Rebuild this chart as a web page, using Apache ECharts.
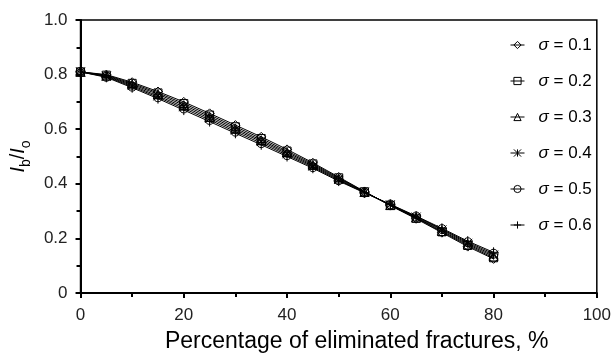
<!DOCTYPE html>
<html>
<head>
<meta charset="utf-8">
<script src="https://cdn.jsdelivr.net/npm/echarts@6/dist/echarts.min.js"></script>
<style>html,body{margin:0;padding:0;background:#fff;}#c{width:614px;height:358px;}</style>
</head>
<body>
<div id="c"></div>
<script>
const xValues = [0,5,10,15,20,25,30,35,40,45,50,55,60,65,70,75,80];
const sigmaLabels = ['0.1','0.2','0.3','0.4','0.5','0.6'];
const s01 = [.810,.800,.772,.738,.700,.658,.615,.572,.526,.477,.425,.372,.320,.272,.221,.170,.125];
const s02 = [.810,.798,.768,.733,.694,.652,.609,.566,.520,.473,.422,.371,.321,.274,.224,.174,.129];
const s03 = [.810,.796,.764,.728,.688,.646,.603,.560,.515,.469,.419,.370,.322,.276,.227,.178,.134];
const s04 = [.810,.794,.760,.722,.682,.640,.597,.555,.510,.465,.416,.369,.323,.278,.231,.182,.139];
const s05 = [.810,.792,.756,.717,.676,.634,.591,.549,.505,.461,.413,.368,.324,.280,.234,.186,.144];
const s06 = [.810,.790,.752,.712,.670,.628,.585,.543,.500,.457,.410,.367,.325,.282,.237,.190,.149];
const seriesValues = [s01,s02,s03,s04,s05,s06];
const symbols = ['diamond','rect','triangle','path://M-1,-1L1,1M1,-1L-1,1M0,-1L0,1','circle','path://M0,-1L0,1M-1,0L1,0'];
const symbolSizes = [9,8,9,9,9,10];

const chart = echarts.init(document.getElementById('c'), null, {renderer:'canvas'});
const font = 'Liberation Sans, Arial, sans-serif';
const series = seriesValues.map((vals, i) => ({
  name: 'σ = ' + sigmaLabels[i],
  type: 'line',
  data: xValues.map((x, j) => [x, vals[j]]),
  symbol: symbols[i],
  symbolSize: symbolSizes[i],
  showSymbol: true,
  lineStyle: {color: '#000', width: 1},
  itemStyle: {color: 'rgba(255,255,255,0)', borderColor: '#000', borderWidth: 1},
  emphasis: {disabled: true},
  animation: false
}));

chart.setOption({
  animation: false,
  backgroundColor: '#fff',
  grid: {left: 79, right: 16, top: 20, bottom: 64, show: true, borderColor: '#000', borderWidth: 1.5, containLabel: false},
  legend: {
    orient: 'vertical', left: 505, top: 30, itemGap: 16, itemWidth: 14, itemHeight: 9,
    data: series.map(s => s.name),
    lineStyle: {width: 1},
    itemStyle: {borderWidth: 1},
    formatter: n => '{g|}{s|σ}' + n.slice(1),
    textStyle: {fontFamily: font, fontSize: 17, color: '#000', lineHeight: 20,
      rich: {g: {width: 9}, s: {fontFamily: font, fontSize: 17, fontStyle: 'italic', color: '#000', lineHeight: 20}}}
  },
  xAxis: {
    type: 'value', min: 0, max: 100, interval: 20,
    name: 'Percentage of eliminated fractures, %', nameLocation: 'middle', nameGap: 37,
    nameTextStyle: {fontFamily: font, fontSize: 23, color: '#000', padding: [0,0,0,36]},
    axisLine: {lineStyle: {color: '#000', width: 2}},
    axisTick: {inside: false, length: 5, lineStyle: {color: '#000', width: 2}},
    minorTick: {show: true, splitNumber: 2, length: 4, lineStyle: {color: '#000', width: 2}},
    splitLine: {show: false},
    axisLabel: {fontFamily: font, fontSize: 17, color: '#222', margin: 14}
  },
  yAxis: {
    type: 'value', min: 0, max: 1, interval: 0.2,
    name: '{i|I}{sub|b}{n|/}{i|I}{sub|o}', nameLocation: 'middle', nameGap: 47, nameRotate: 90,
    nameTextStyle: {fontFamily: font, fontSize: 20, color: '#000',
      rich: {
        i: {fontFamily: font, fontSize: 20, fontStyle: 'italic', color: '#000', verticalAlign: 'bottom', lineHeight: 24},
        n: {fontFamily: font, fontSize: 20, color: '#000', verticalAlign: 'bottom', lineHeight: 24},
        sub: {fontFamily: font, fontSize: 14, color: '#000', verticalAlign: 'bottom', lineHeight: 16, padding: [0,0,-5,0]}
      }},
    axisLine: {lineStyle: {color: '#000', width: 2}},
    axisTick: {inside: false, length: 5, lineStyle: {color: '#000', width: 2}},
    minorTick: {show: true, splitNumber: 2, length: 4, lineStyle: {color: '#000', width: 2}},
    splitLine: {show: false},
    axisLabel: {fontFamily: font, fontSize: 17, color: '#222', margin: 13,
      formatter: v => v === 0 ? '0' : v.toFixed(1)}
  },
  series: series
});
</script>
</body>
</html>
